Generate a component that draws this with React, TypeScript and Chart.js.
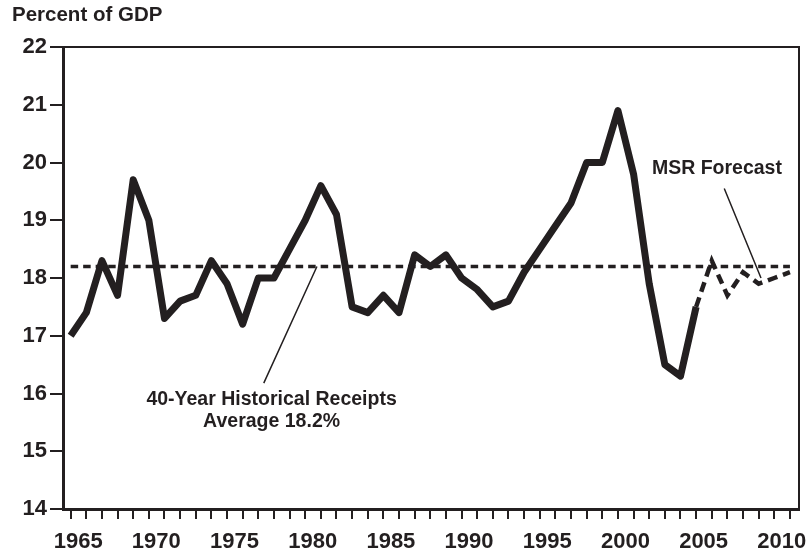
import React, { useEffect, useRef } from "react";
import { Chart, registerables } from "chart.js";

Chart.register(...registerables);

// ---- Data ----
const actualYears = [
  1965, 1966, 1967, 1968, 1969, 1970, 1971, 1972, 1973, 1974,
  1975, 1976, 1977, 1978, 1979, 1980, 1981, 1982, 1983, 1984,
  1985, 1986, 1987, 1988, 1989, 1990, 1991, 1992, 1993, 1994,
  1995, 1996, 1997, 1998, 1999, 2000, 2001, 2002, 2003, 2004,
  2005,
];
const actualReceipts = [
  17.0, 17.4, 18.3, 17.7, 19.7, 19.0, 17.3, 17.6, 17.7, 18.3,
  17.9, 17.2, 18.0, 18.0, 18.5, 19.0, 19.6, 19.1, 17.5, 17.4,
  17.7, 17.4, 18.4, 18.2, 18.4, 18.0, 17.8, 17.5, 17.6, 18.1,
  18.5, 18.9, 19.3, 20.0, 20.0, 20.9, 19.8, 17.9, 16.5, 16.3,
  17.5,
];
const forecastYears = [2005, 2006, 2007, 2008, 2009, 2010, 2011];
const forecastReceipts = [17.5, 18.3, 17.7, 18.1, 17.9, 18.0, 18.1];
const averageYears = [1965, 2011];
const averageReceipts = [18.2, 18.2];

const tickYears = [
  1965, 1966, 1967, 1968, 1969, 1970, 1971, 1972, 1973, 1974,
  1975, 1976, 1977, 1978, 1979, 1980, 1981, 1982, 1983, 1984,
  1985, 1986, 1987, 1988, 1989, 1990, 1991, 1992, 1993, 1994,
  1995, 1996, 1997, 1998, 1999, 2000, 2001, 2002, 2003, 2004,
  2005, 2006, 2007, 2008, 2009, 2010, 2011,
];
const labelYears = [1965, 1970, 1975, 1980, 1985, 1990, 1995, 2000, 2005, 2010];
const yTickValues = [14, 15, 16, 17, 18, 19, 20, 21, 22];

const titleText = "Percent of GDP";
const historicalText = ["40-Year Historical Receipts", "Average 18.2%"];
const historicalTextYear = 1977.85;
const historicalTextValues = [15.89, 15.52];
const historicalLeaderYears = [1977.35, 1980.75];
const historicalLeaderValues = [16.18, 18.2];
const forecastText = "MSR Forecast";
const forecastTextYear = 2006.33;
const forecastTextValue = 19.9;
const forecastLeaderYears = [2006.8, 2009.15];
const forecastLeaderValues = [19.55, 18.0];

const INK = "#231f20";
const FONT = "'Liberation Sans', Arial, Helvetica, sans-serif";

const toPoints = (xs: number[], ys: number[]) => xs.map((x, i) => ({ x, y: ys[i] }));

const decorPlugin = {
  id: "decor",
  beforeDatasetsDraw(chart: any) {
    const { ctx, chartArea } = chart;
    ctx.save();
    ctx.strokeStyle = INK;
    ctx.lineWidth = 2;
    ctx.beginPath();
    ctx.moveTo(chartArea.left, chartArea.top);
    ctx.lineTo(chartArea.right, chartArea.top);
    ctx.lineTo(chartArea.right, chartArea.bottom);
    ctx.stroke();
    ctx.restore();
  },
  afterDraw(chart: any) {
    const { ctx } = chart;
    const xs = chart.scales.x;
    const ys = chart.scales.y;
    ctx.save();
    ctx.fillStyle = INK;
    ctx.strokeStyle = INK;
    // title
    ctx.font = `bold 20.5px ${FONT}`;
    ctx.textAlign = "left";
    ctx.textBaseline = "alphabetic";
    ctx.fillText(titleText, 12, 21);

    // leader lines
    ctx.lineWidth = 1.5;
    ctx.beginPath();
    ctx.moveTo(xs.getPixelForValue(historicalLeaderYears[0]), ys.getPixelForValue(historicalLeaderValues[0]));
    ctx.lineTo(xs.getPixelForValue(historicalLeaderYears[1]), ys.getPixelForValue(historicalLeaderValues[1]));
    ctx.moveTo(xs.getPixelForValue(forecastLeaderYears[0]), ys.getPixelForValue(forecastLeaderValues[0]));
    ctx.lineTo(xs.getPixelForValue(forecastLeaderYears[1]), ys.getPixelForValue(forecastLeaderValues[1]));
    ctx.stroke();

    // annotation texts
    ctx.font = `bold 19.5px ${FONT}`;
    ctx.textAlign = "center";
    ctx.textBaseline = "middle";
    historicalText.forEach((t, i) => {
      ctx.fillText(t, xs.getPixelForValue(historicalTextYear), ys.getPixelForValue(historicalTextValues[i]));
    });
    ctx.fillText(forecastText, xs.getPixelForValue(forecastTextYear), ys.getPixelForValue(forecastTextValue));
    ctx.restore();
  },
};

export default function App() {
  const canvasRef = useRef<HTMLCanvasElement | null>(null);

  useEffect(() => {
    const canvas = canvasRef.current;
    if (!canvas) return;
    const chart = new Chart(canvas, {
      type: "line",
      data: {
        datasets: [
          {
            label: "Average",
            data: toPoints(averageYears, averageReceipts),
            borderColor: INK,
            borderWidth: 3.5,
            borderDash: [7.5, 5],
            pointRadius: 0,
            fill: false,
          },
          {
            label: "Actual",
            data: toPoints(actualYears, actualReceipts),
            borderColor: INK,
            borderWidth: 7,
            borderJoinStyle: "round",
            borderCapStyle: "butt",
            pointRadius: 0,
            tension: 0,
            fill: false,
          },
          {
            label: "Forecast",
            data: toPoints(forecastYears, forecastReceipts),
            borderColor: INK,
            borderWidth: 4.5,
            borderDash: [10, 6],
            pointRadius: 0,
            tension: 0,
            fill: false,
          },
        ],
      },
      options: {
        animation: false,
        responsive: false,
        maintainAspectRatio: false,
        devicePixelRatio: 1,
        layout: { padding: { top: 47, right: 10, left: 0, bottom: 0 } },
        plugins: {
          legend: { display: false },
          tooltip: { enabled: false },
          title: { display: false },
        },
        scales: {
          x: {
            type: "linear",
            min: 1964.51,
            max: 2011.58,
            afterBuildTicks: (axis: any) => {
              axis.ticks = tickYears.map((v) => ({ value: v }));
            },
            afterFit: (axis: any) => {
              axis.height = 43;
            },
            ticks: {
              autoSkip: false,
              maxRotation: 0,
              minRotation: 0,
              labelOffset: 7.5,
              padding: 10,
              color: INK,
              font: { family: FONT, size: 22, weight: "bold" },
              callback: (v: any) => (labelYears.includes(Number(v)) ? String(v) : ""),
            },
            grid: {
              display: true,
              drawOnChartArea: false,
              drawTicks: true,
              tickLength: 10,
              color: INK,
              lineWidth: 2,
            },
            border: { display: true, color: INK, width: 3 },
          },
          y: {
            type: "linear",
            min: 14,
            max: 22,
            afterBuildTicks: (axis: any) => {
              axis.ticks = yTickValues.map((v) => ({ value: v }));
            },
            afterFit: (axis: any) => {
              axis.width = 63;
            },
            ticks: {
              padding: 3,
              color: INK,
              font: { family: FONT, size: 22, weight: "bold" },
              callback: (v: any) => String(v),
            },
            grid: {
              display: true,
              drawOnChartArea: false,
              drawTicks: true,
              tickLength: 13,
              color: INK,
              lineWidth: 2,
            },
            border: { display: true, color: INK, width: 3 },
          },
        },
      },
      plugins: [decorPlugin],
    } as any);
    return () => {
      chart.destroy();
    };
  }, []);

  return (
    <div style={{ position: "fixed", left: 0, top: 0, width: 809, height: 552, background: "#fff" }}>
      <canvas ref={canvasRef} width={809} height={552} style={{ width: 809, height: 552, display: "block" }} />
    </div>
  );
}
